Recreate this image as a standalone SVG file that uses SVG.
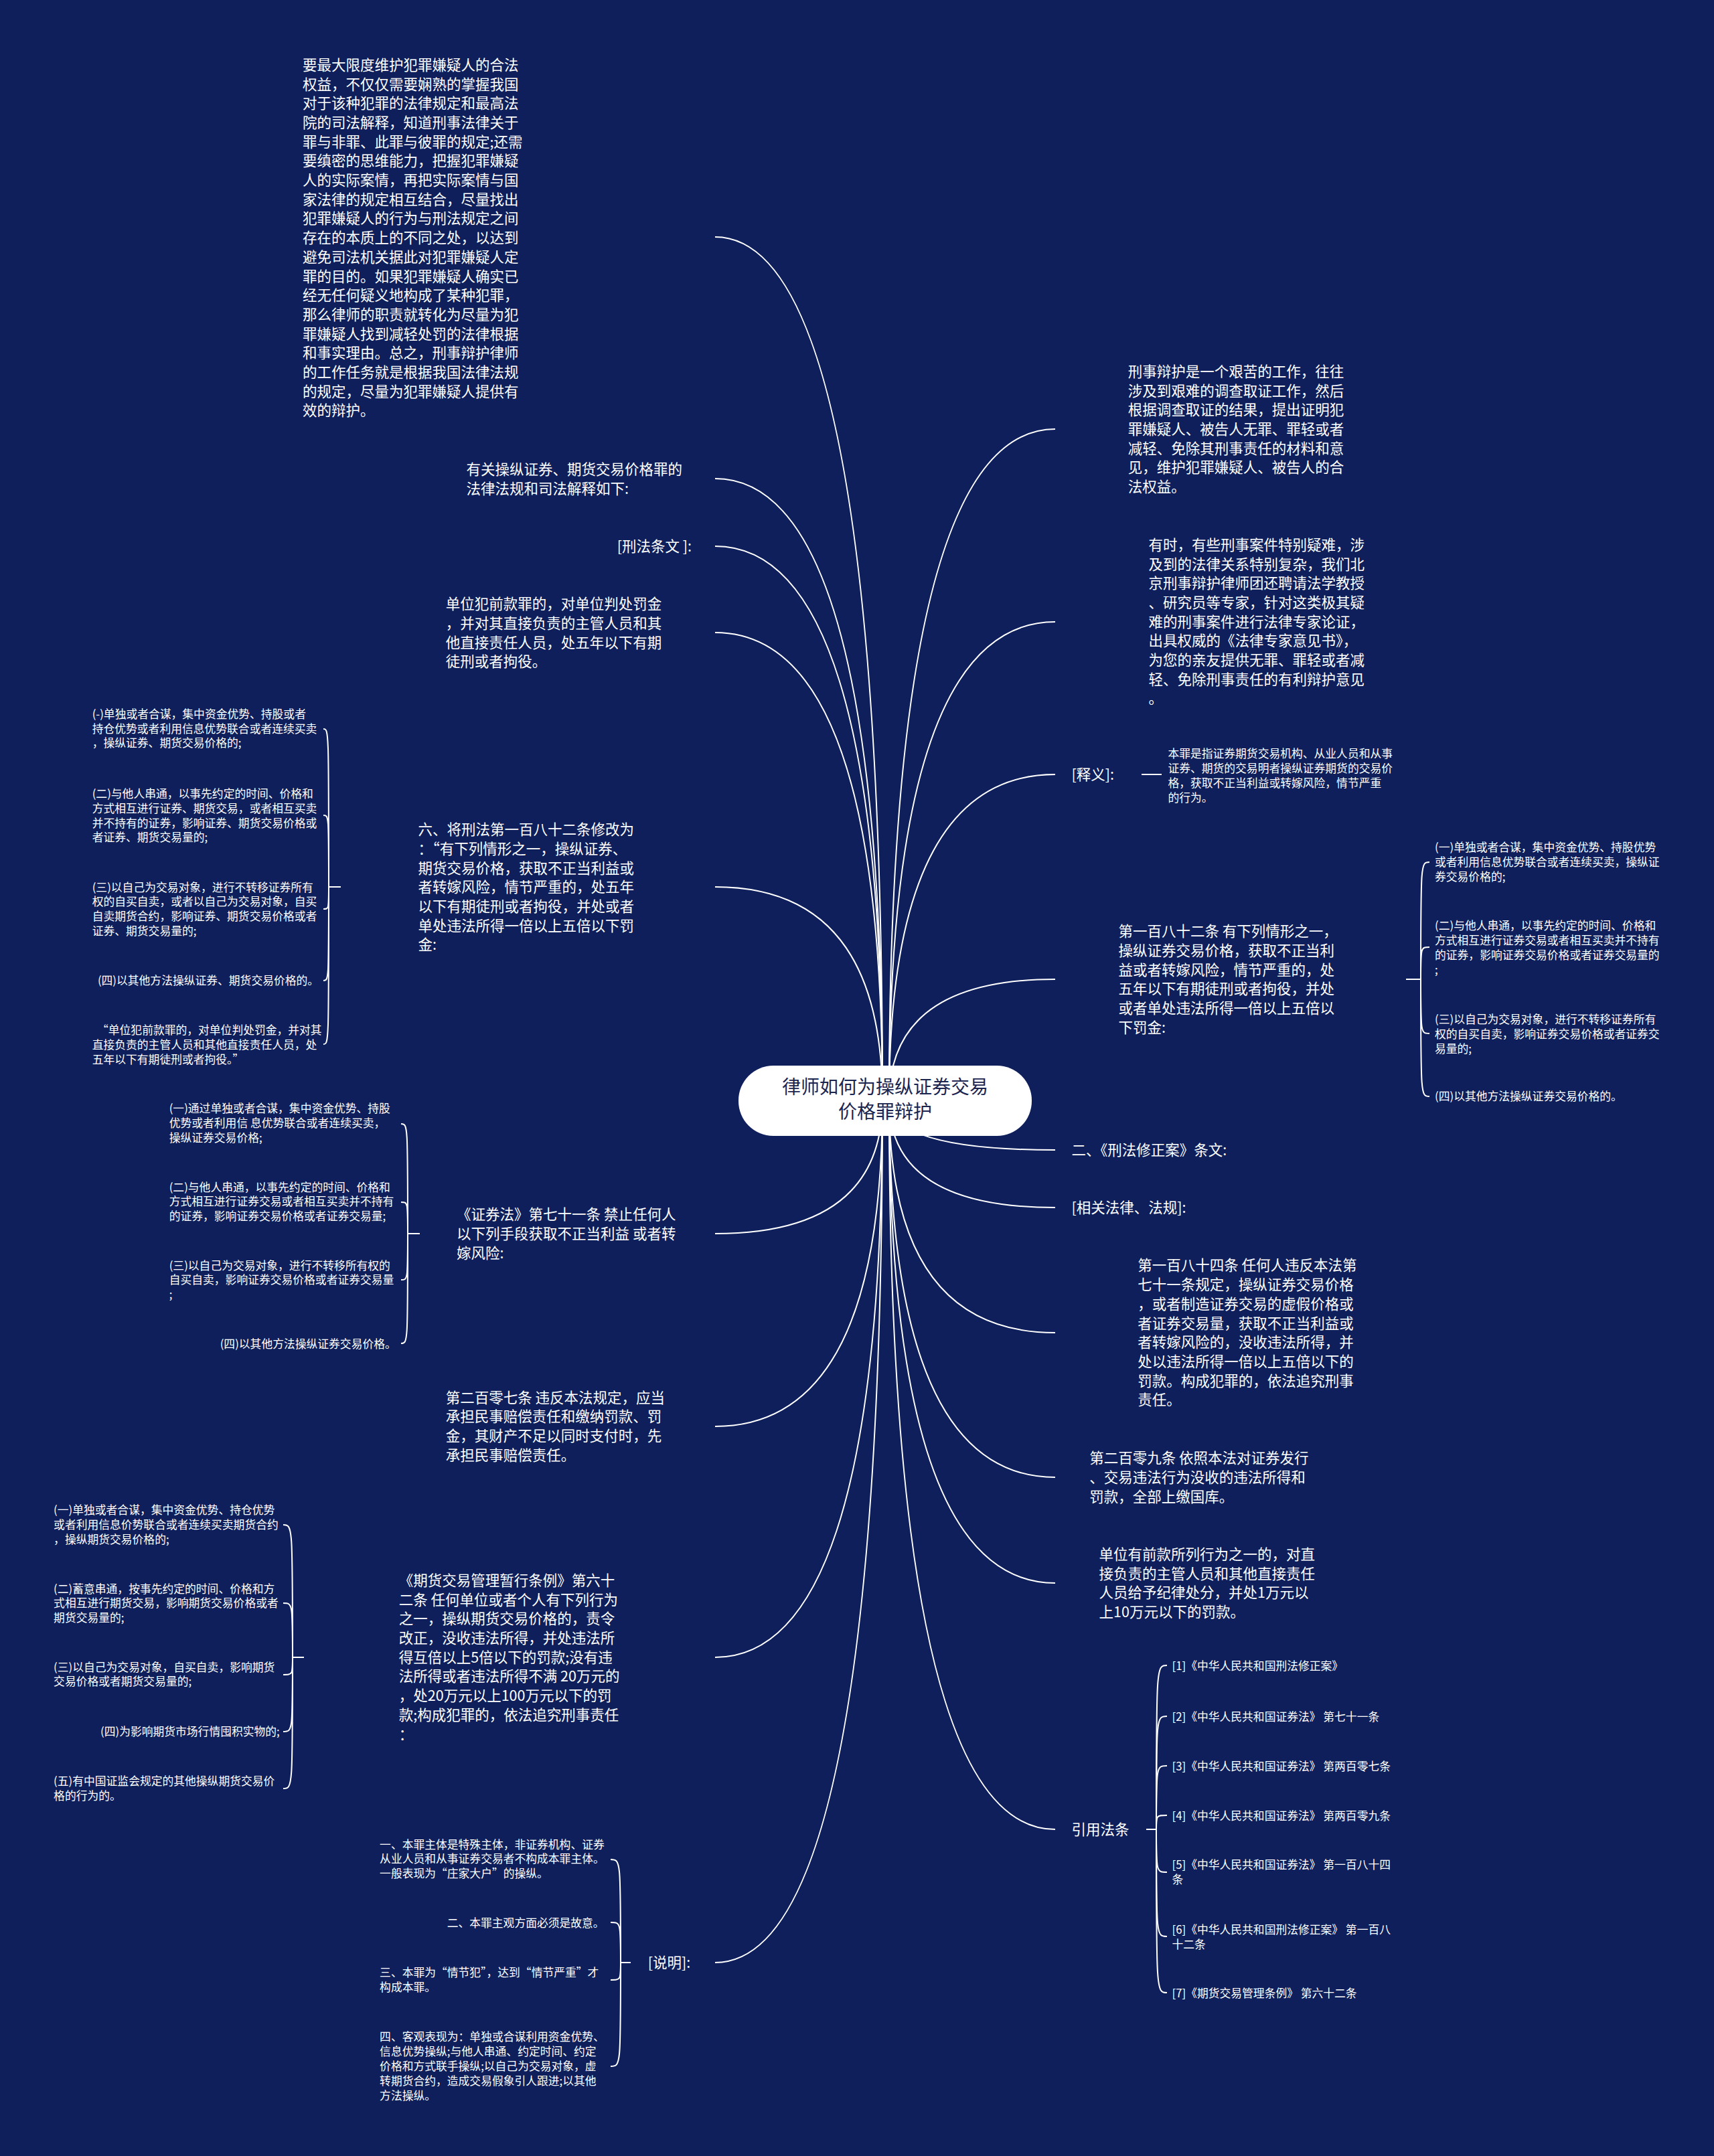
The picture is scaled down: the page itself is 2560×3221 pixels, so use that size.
<svg xmlns="http://www.w3.org/2000/svg" width="2560" height="3221" viewBox="0 0 2560 3221">
<style>
.t{font-family:"Noto Sans CJK SC","Noto Sans","Liberation Sans",sans-serif;fill:#ffffff}
.m{font-size:21.5px}
.s{font-size:16.8px}
.c{font-family:"Noto Sans CJK SC","Noto Sans","Liberation Sans",sans-serif;font-size:28px;fill:#1b2550;text-anchor:middle}
.ln{fill:none;stroke:#ffffff;stroke-width:2}
</style>
<rect width="2560" height="3221" fill="#0e1f5c"/>
<g id="connectors" class="ln">
<path d="M1318,1644 Q1318,354 1068,354"/>
<path d="M1318,1644 Q1318,715 1068,715"/>
<path d="M1318,1644 Q1318,816 1068,816"/>
<path d="M1318,1644 Q1318,945 1068,945"/>
<path d="M1318,1644 Q1318,1325 1068,1325"/>
<path d="M1318,1644 Q1318,1843 1068,1843"/>
<path d="M1318,1644 Q1318,2131 1068,2131"/>
<path d="M1318,1644 Q1318,2476 1068,2476"/>
<path d="M1318,1644 Q1318,2932 1068,2932"/>
<path d="M1328,1644 Q1328,641 1576,641"/>
<path d="M1328,1644 Q1328,929 1576,929"/>
<path d="M1328,1644 Q1328,1157 1576,1157"/>
<path d="M1328,1644 Q1328,1463 1576,1463"/>
<path d="M1328,1644 Q1328,1718 1576,1718"/>
<path d="M1328,1644 Q1328,1804 1576,1804"/>
<path d="M1328,1644 Q1328,1991 1576,1991"/>
<path d="M1328,1644 Q1328,2207 1576,2207"/>
<path d="M1328,1644 Q1328,2365 1576,2365"/>
<path d="M1328,1644 Q1328,2733 1576,2733"/>
<!-- brace: 六 -->
<path d="M509,1325 L491,1325"/>
<path d="M491,1325 C491,1089 491,1089 483,1089"/>
<path d="M491,1325 C491,1218 491,1218 483,1218"/>
<path d="M491,1325 C491,1358 491,1358 483,1358"/>
<path d="M491,1325 C491,1465 491,1465 483,1465"/>
<path d="M491,1325 C491,1560 491,1560 483,1560"/>
<!-- brace: 证券法 -->
<path d="M627,1843 L609,1843"/>
<path d="M609,1843 C609,1679 609,1679 599,1679"/>
<path d="M609,1843 C609,1796 609,1796 599,1796"/>
<path d="M609,1843 C609,1912 609,1912 599,1912"/>
<path d="M609,1843 C609,2007 609,2007 599,2007"/>
<!-- brace: 期货 -->
<path d="M454,2476 L437,2476"/>
<path d="M437,2476 C437,2278 437,2278 423,2278"/>
<path d="M437,2476 C437,2395 437,2395 423,2395"/>
<path d="M437,2476 C437,2502 437,2502 423,2502"/>
<path d="M437,2476 C437,2587 437,2587 423,2587"/>
<path d="M437,2476 C437,2672 437,2672 423,2672"/>
<!-- brace: 说明 -->
<path d="M942,2932 L927,2932"/>
<path d="M927,2932 C927,2778 927,2778 912,2778"/>
<path d="M927,2932 C927,2872 927,2872 912,2872"/>
<path d="M927,2932 C927,2958 927,2958 912,2958"/>
<path d="M927,2932 C927,3087 927,3087 912,3087"/>
<!-- brace: 第一百八十二条 -->
<path d="M2100,1463 L2122,1463"/>
<path d="M2122,1463 C2122,1288 2122,1288 2135,1288"/>
<path d="M2122,1463 C2122,1415 2122,1415 2135,1415"/>
<path d="M2122,1463 C2122,1544 2122,1544 2135,1544"/>
<path d="M2122,1463 C2122,1638 2122,1638 2135,1638"/>
<!-- brace: 引用法条 -->
<path d="M1712,2733 L1727,2733"/>
<path d="M1727,2733 C1727,2488 1727,2488 1743,2488"/>
<path d="M1727,2733 C1727,2564 1727,2564 1743,2564"/>
<path d="M1727,2733 C1727,2638 1727,2638 1743,2638"/>
<path d="M1727,2733 C1727,2712 1727,2712 1743,2712"/>
<path d="M1727,2733 C1727,2797 1727,2797 1743,2797"/>
<path d="M1727,2733 C1727,2893 1727,2893 1743,2893"/>
<path d="M1727,2733 C1727,2977 1727,2977 1743,2977"/>
<!-- 释义 -->
<path d="M1705,1157 L1735,1157"/>
</g>

<g id="center">
<rect x="1103" y="1592" width="438" height="105" rx="52" ry="52" fill="#ffffff"/>
<text class="c" x="1322" y="1633.6">律师如何为操纵证券交易</text>
<text class="c" x="1322" y="1670.6">价格罪辩护</text>
</g>

<g id="n-l1">
<text class="t m" x="452" y="104.8"><tspan x="452" dy="0">要最大限度维护犯罪嫌疑人的合法</tspan><tspan x="452" dy="28.7">权益，不仅仅需要娴熟的掌握我国</tspan><tspan x="452" dy="28.7">对于该种犯罪的法律规定和最高法</tspan><tspan x="452" dy="28.7">院的司法解释，知道刑事法律关于</tspan><tspan x="452" dy="28.7">罪与非罪、此罪与彼罪的规定;还需</tspan><tspan x="452" dy="28.7">要缜密的思维能力，把握犯罪嫌疑</tspan><tspan x="452" dy="28.7">人的实际案情，再把实际案情与国</tspan><tspan x="452" dy="28.7">家法律的规定相互结合，尽量找出</tspan><tspan x="452" dy="28.7">犯罪嫌疑人的行为与刑法规定之间</tspan><tspan x="452" dy="28.7">存在的本质上的不同之处，以达到</tspan><tspan x="452" dy="28.7">避免司法机关据此对犯罪嫌疑人定</tspan><tspan x="452" dy="28.7">罪的目的。如果犯罪嫌疑人确实已</tspan><tspan x="452" dy="28.7">经无任何疑义地构成了某种犯罪，</tspan><tspan x="452" dy="28.7">那么律师的职责就转化为尽量为犯</tspan><tspan x="452" dy="28.7">罪嫌疑人找到减轻处罚的法律根据</tspan><tspan x="452" dy="28.7">和事实理由。总之，刑事辩护律师</tspan><tspan x="452" dy="28.7">的工作任务就是根据我国法律法规</tspan><tspan x="452" dy="28.7">的规定，尽量为犯罪嫌疑人提供有</tspan><tspan x="452" dy="28.7">效的辩护。</tspan></text>
</g>

<g id="n-l2">
<text class="t m" x="696.5" y="708.8"><tspan x="696.5" dy="0">有关操纵证券、期货交易价格罪的</tspan><tspan x="696.5" dy="28.7">法律法规和司法解释如下:</tspan></text>
</g>

<g id="n-l3">
<text class="t m" x="1033" y="823.9" text-anchor="end">[刑法条文 ]:</text>
</g>

<g id="n-l4">
<text class="t m" x="665.7" y="910.2"><tspan x="665.7" dy="0">单位犯前款罪的，对单位判处罚金</tspan><tspan x="665.7" dy="28.7">，并对其直接负责的主管人员和其</tspan><tspan x="665.7" dy="28.7">他直接责任人员，处五年以下有期</tspan><tspan x="665.7" dy="28.7">徒刑或者拘役。</tspan></text>
</g>

<g id="n-l5">
<text class="t m" x="624.6" y="1247.1"><tspan x="624.6" dy="0">六、将刑法第一百八十二条修改为</tspan><tspan x="624.6" dy="28.7">：“有下列情形之一，操纵证券、</tspan><tspan x="624.6" dy="28.7">期货交易价格，获取不正当利益或</tspan><tspan x="624.6" dy="28.7">者转嫁风险，情节严重的，处五年</tspan><tspan x="624.6" dy="28.7">以下有期徒刑或者拘役，并处或者</tspan><tspan x="624.6" dy="28.7">单处违法所得一倍以上五倍以下罚</tspan><tspan x="624.6" dy="28.7">金:</tspan></text>
</g>
<g id="n-l5-1">
<text class="t s" x="137.7" y="1072.7"><tspan x="137.7" dy="0">(-)单独或者合谋，集中资金优势、持股或者</tspan><tspan x="137.7" dy="21.8">持仓优势或者利用信息优势联合或者连续买卖</tspan><tspan x="137.7" dy="21.8">，操纵证券、期货交易价格的;</tspan></text>
</g>
<g id="n-l5-2">
<text class="t s" x="137.7" y="1191.9"><tspan x="137.7" dy="0">(二)与他人串通，以事先约定的时间、价格和</tspan><tspan x="137.7" dy="21.8">方式相互进行证券、期货交易，或者相互买卖</tspan><tspan x="137.7" dy="21.8">并不持有的证券，影响证券、期货交易价格或</tspan><tspan x="137.7" dy="21.8">者证券、期货交易量的;</tspan></text>
</g>
<g id="n-l5-3">
<text class="t s" x="137.7" y="1331.6"><tspan x="137.7" dy="0">(三)以自己为交易对象，进行不转移证券所有</tspan><tspan x="137.7" dy="21.8">权的自买自卖，或者以自己为交易对象，自买</tspan><tspan x="137.7" dy="21.8">自卖期货合约，影响证券、期货交易价格或者</tspan><tspan x="137.7" dy="21.8">证券、期货交易量的;</tspan></text>
</g>
<g id="n-l5-4">
<text class="t s" x="145.9" y="1471.3">(四)以其他方法操纵证券、期货交易价格的。</text>
</g>
<g id="n-l5-5">
<text class="t s" x="137.7" y="1545.3"><tspan x="145" dy="0">“单位犯前款罪的，对单位判处罚金，并对其</tspan><tspan x="137.7" dy="21.8">直接负责的主管人员和其他直接责任人员，处</tspan><tspan x="137.7" dy="21.8">五年以下有期徒刑或者拘役。”</tspan></text>
</g>

<g id="n-l6">
<text class="t m" x="682.1" y="1822.4"><tspan x="682.1" dy="0">《证券法》第七十一条 禁止任何人</tspan><tspan x="682.1" dy="28.7">以下列手段获取不正当利益 或者转</tspan><tspan x="682.1" dy="28.7">嫁风险:</tspan></text>
</g>
<g id="n-l6-1">
<text class="t s" x="252.7" y="1662.4"><tspan x="252.7" dy="0">(一)通过单独或者合谋，集中资金优势、持股</tspan><tspan x="252.7" dy="21.8">优势或者利用信 息优势联合或者连续买卖，</tspan><tspan x="252.7" dy="21.8">操纵证券交易价格;</tspan></text>
</g>
<g id="n-l6-2">
<text class="t s" x="252.7" y="1779.5"><tspan x="252.7" dy="0">(二)与他人串通，以事先约定的时间、价格和</tspan><tspan x="252.7" dy="21.8">方式相互进行证券交易或者相互买卖并不持有</tspan><tspan x="252.7" dy="21.8">的证券，影响证券交易价格或者证券交易量;</tspan></text>
</g>
<g id="n-l6-3">
<text class="t s" x="252.7" y="1896.6"><tspan x="252.7" dy="0">(三)以自己为交易对象，进行不转移所有权的</tspan><tspan x="252.7" dy="21.8">自买自卖，影响证券交易价格或者证券交易量</tspan><tspan x="252.7" dy="21.8">;</tspan></text>
</g>
<g id="n-l6-4">
<text class="t s" x="328.7" y="2013.7">(四)以其他方法操纵证券交易价格。</text>
</g>

<g id="n-l7">
<text class="t m" x="665.7" y="2095.7"><tspan x="665.7" dy="0">第二百零七条 违反本法规定，应当</tspan><tspan x="665.7" dy="28.7">承担民事赔偿责任和缴纳罚款、罚</tspan><tspan x="665.7" dy="28.7">金，其财产不足以同时支付时，先</tspan><tspan x="665.7" dy="28.7">承担民事赔偿责任。</tspan></text>
</g>

<g id="n-l8">
<text class="t m" x="595.8" y="2368.9"><tspan x="595.8" dy="0">《期货交易管理暂行条例》第六十</tspan><tspan x="595.8" dy="28.7">二条 任何单位或者个人有下列行为</tspan><tspan x="595.8" dy="28.7">之一，操纵期货交易价格的，责令</tspan><tspan x="595.8" dy="28.7">改正，没收违法所得，并处违法所</tspan><tspan x="595.8" dy="28.7">得互倍以上5倍以下的罚款;没有违</tspan><tspan x="595.8" dy="28.7">法所得或者违法所得不满 20万元的</tspan><tspan x="595.8" dy="28.7">，处20万元以上100万元以下的罚</tspan><tspan x="595.8" dy="28.7">款;构成犯罪的，依法追究刑事责任</tspan><tspan x="595.8" dy="28.7">：</tspan></text>
</g>
<g id="n-l8-1">
<text class="t s" x="80.1" y="2262.3"><tspan x="80.1" dy="0">(一)单独或者合谋，集中资金优势、持仓优势</tspan><tspan x="80.1" dy="21.8">或者利用信息价势联合或者连续买卖期货合约</tspan><tspan x="80.1" dy="21.8">，操纵期货交易价格的;</tspan></text>
</g>
<g id="n-l8-2">
<text class="t s" x="80.1" y="2379.5"><tspan x="80.1" dy="0">(二)蓄意串通，按事先约定的时间、价格和方</tspan><tspan x="80.1" dy="21.8">式相互进行期货交易，影响期货交易价格或者</tspan><tspan x="80.1" dy="21.8">期货交易量的;</tspan></text>
</g>
<g id="n-l8-3">
<text class="t s" x="80.1" y="2496.6"><tspan x="80.1" dy="0">(三)以自己为交易对象，自买自卖，影响期货</tspan><tspan x="80.1" dy="21.8">交易价格或者期货交易量的;</tspan></text>
</g>
<g id="n-l8-4">
<text class="t s" x="150" y="2593.1">(四)为影响期货市场行情囤积实物的;</text>
</g>
<g id="n-l8-5">
<text class="t s" x="80.1" y="2667.1"><tspan x="80.1" dy="0">(五)有中国证监会规定的其他操纵期货交易价</tspan><tspan x="80.1" dy="21.8">格的行为的。</tspan></text>
</g>

<g id="n-l9">
<text class="t m" x="967.7" y="2940.1">[说明]:</text>
</g>
<g id="n-l9-1">
<text class="t s" x="567.1" y="2761.6"><tspan x="567.1" dy="0">一、本罪主体是特殊主体，非证券机构、证券</tspan><tspan x="567.1" dy="21.8">从业人员和从事证券交易者不构成本罪主体。</tspan><tspan x="567.1" dy="21.8">一般表现为“庄家大户”的操纵。</tspan></text>
</g>
<g id="n-l9-2">
<text class="t s" x="667.7" y="2878.7">二、本罪主观方面必须是故意。</text>
</g>
<g id="n-l9-3">
<text class="t s" x="567.1" y="2952.7"><tspan x="567.1" dy="0">三、本罪为“情节犯”，达到“情节严重”才</tspan><tspan x="567.1" dy="21.8">构成本罪。</tspan></text>
</g>
<g id="n-l9-4">
<text class="t s" x="567.1" y="3049.3"><tspan x="567.1" dy="0">四、客观表现为：单独或合谋利用资金优势、</tspan><tspan x="567.1" dy="21.8">信息优势操纵;与他人串通、约定时间、约定</tspan><tspan x="567.1" dy="21.8">价格和方式联手操纵;以自己为交易对象，虚</tspan><tspan x="567.1" dy="21.8">转期货合约，造成交易假象引人跟进;以其他</tspan><tspan x="567.1" dy="21.8">方法操纵。</tspan></text>
</g>

<g id="n-r1">
<text class="t m" x="1684.8" y="562.9"><tspan x="1684.8" dy="0">刑事辩护是一个艰苦的工作，往往</tspan><tspan x="1684.8" dy="28.7">涉及到艰难的调查取证工作，然后</tspan><tspan x="1684.8" dy="28.7">根据调查取证的结果，提出证明犯</tspan><tspan x="1684.8" dy="28.7">罪嫌疑人、被告人无罪、罪轻或者</tspan><tspan x="1684.8" dy="28.7">减轻、免除其刑事责任的材料和意</tspan><tspan x="1684.8" dy="28.7">见，维护犯罪嫌疑人、被告人的合</tspan><tspan x="1684.8" dy="28.7">法权益。</tspan></text>
</g>

<g id="n-r2">
<text class="t m" x="1715.6" y="821.8"><tspan x="1715.6" dy="0">有时，有些刑事案件特别疑难，涉</tspan><tspan x="1715.6" dy="28.7">及到的法律关系特别复杂，我们北</tspan><tspan x="1715.6" dy="28.7">京刑事辩护律师团还聘请法学教授</tspan><tspan x="1715.6" dy="28.7">、研究员等专家，针对这类极其疑</tspan><tspan x="1715.6" dy="28.7">难的刑事案件进行法律专家论证，</tspan><tspan x="1715.6" dy="28.7">出具权威的《法律专家意见书》，</tspan><tspan x="1715.6" dy="28.7">为您的亲友提供无罪、罪轻或者减</tspan><tspan x="1715.6" dy="28.7">轻、免除刑事责任的有利辩护意见</tspan><tspan x="1715.6" dy="28.7">。</tspan></text>
</g>

<g id="n-r3">
<text class="t m" x="1600.5" y="1164.9">[释义]:</text>
</g>
<g id="n-r3-1">
<text class="t s" x="1744.4" y="1132.3"><tspan x="1744.4" dy="0">本罪是指证券期货交易机构、从业人员和从事</tspan><tspan x="1744.4" dy="21.8">证券、期货的交易明者操纵证券期货的交易价</tspan><tspan x="1744.4" dy="21.8">格，获取不正当利益或转嫁风险，情节严重</tspan><tspan x="1744.4" dy="21.8">的行为。</tspan></text>
</g>

<g id="n-r4">
<text class="t m" x="1670.4" y="1399.2"><tspan x="1670.4" dy="0">第一百八十二条 有下列情形之一，</tspan><tspan x="1670.4" dy="28.7">操纵证券交易价格，获取不正当利</tspan><tspan x="1670.4" dy="28.7">益或者转嫁风险，情节严重的，处</tspan><tspan x="1670.4" dy="28.7">五年以下有期徒刑或者拘役，并处</tspan><tspan x="1670.4" dy="28.7">或者单处违法所得一倍以上五倍以</tspan><tspan x="1670.4" dy="28.7">下罚金:</tspan></text>
</g>
<g id="n-r4-1">
<text class="t s" x="2143" y="1272"><tspan x="2143" dy="0">(一)单独或者合谋，集中资金优势、持股优势</tspan><tspan x="2143" dy="21.8">或者利用信息优势联合或者连续买卖，操纵证</tspan><tspan x="2143" dy="21.8">券交易价格的;</tspan></text>
</g>
<g id="n-r4-2">
<text class="t s" x="2143" y="1389.1"><tspan x="2143" dy="0">(二)与他人串通，以事先约定的时间、价格和</tspan><tspan x="2143" dy="21.8">方式相互进行证券交易或者相互买卖并不持有</tspan><tspan x="2143" dy="21.8">的证券，影响证券交易价格或者证券交易量的</tspan><tspan x="2143" dy="21.8">;</tspan></text>
</g>
<g id="n-r4-3">
<text class="t s" x="2143" y="1528.9"><tspan x="2143" dy="0">(三)以自己为交易对象，进行不转移证券所有</tspan><tspan x="2143" dy="21.8">权的自买自卖，影响证券交易价格或者证券交</tspan><tspan x="2143" dy="21.8">易量的;</tspan></text>
</g>
<g id="n-r4-4">
<text class="t s" x="2143" y="1643.9">(四)以其他方法操纵证券交易价格的。</text>
</g>

<g id="n-r5">
<text class="t m" x="1600.5" y="1725.8">二、《刑法修正案》条文:</text>
</g>
<g id="n-r6">
<text class="t m" x="1600.5" y="1812.1">[相关法律、法规]:</text>
</g>
<g id="n-r7">
<text class="t m" x="1699.2" y="1898.4"><tspan x="1699.2" dy="0">第一百八十四条 任何人违反本法第</tspan><tspan x="1699.2" dy="28.7">七十一条规定，操纵证券交易价格</tspan><tspan x="1699.2" dy="28.7">，或者制造证券交易的虚假价格或</tspan><tspan x="1699.2" dy="28.7">者证券交易量，获取不正当利益或</tspan><tspan x="1699.2" dy="28.7">者转嫁风险的，没收违法所得，并</tspan><tspan x="1699.2" dy="28.7">处以违法所得一倍以上五倍以下的</tspan><tspan x="1699.2" dy="28.7">罚款。构成犯罪的，依法追究刑事</tspan><tspan x="1699.2" dy="28.7">责任。</tspan></text>
</g>
<g id="n-r8">
<text class="t m" x="1627.2" y="2186.1"><tspan x="1627.2" dy="0">第二百零九条 依照本法对证券发行</tspan><tspan x="1627.2" dy="28.7">、交易违法行为没收的违法所得和</tspan><tspan x="1627.2" dy="28.7">罚款，全部上缴国库。</tspan></text>
</g>
<g id="n-r9">
<text class="t m" x="1641.6" y="2329.9"><tspan x="1641.6" dy="0">单位有前款所列行为之一的，对直</tspan><tspan x="1641.6" dy="28.7">接负责的主管人员和其他直接责任</tspan><tspan x="1641.6" dy="28.7">人员给予纪律处分，并处1万元以</tspan><tspan x="1641.6" dy="28.7">上10万元以下的罚款。</tspan></text>
</g>

<g id="n-r10">
<text class="t m" x="1600.5" y="2740.8">引用法条</text>
</g>
<g id="n-r10-1"><text class="t s" x="1750.5" y="2494.5">[1]《中华人民共和国刑法修正案》</text></g>
<g id="n-r10-2"><text class="t s" x="1750.5" y="2570.5">[2]《中华人民共和国证券法》 第七十一条</text></g>
<g id="n-r10-3"><text class="t s" x="1750.5" y="2644.5">[3]《中华人民共和国证券法》 第两百零七条</text></g>
<g id="n-r10-4"><text class="t s" x="1750.5" y="2718.5">[4]《中华人民共和国证券法》 第两百零九条</text></g>
<g id="n-r10-5"><text class="t s" x="1750.5" y="2792.4"><tspan x="1750.5" dy="0">[5]《中华人民共和国证券法》 第一百八十四</tspan><tspan x="1750.5" dy="21.8">条</tspan></text></g>
<g id="n-r10-6"><text class="t s" x="1750.5" y="2889"><tspan x="1750.5" dy="0">[6]《中华人民共和国刑法修正案》 第一百八</tspan><tspan x="1750.5" dy="21.8">十二条</tspan></text></g>
<g id="n-r10-7"><text class="t s" x="1750.5" y="2983.5">[7]《期货交易管理条例》 第六十二条</text></g>
</svg>
